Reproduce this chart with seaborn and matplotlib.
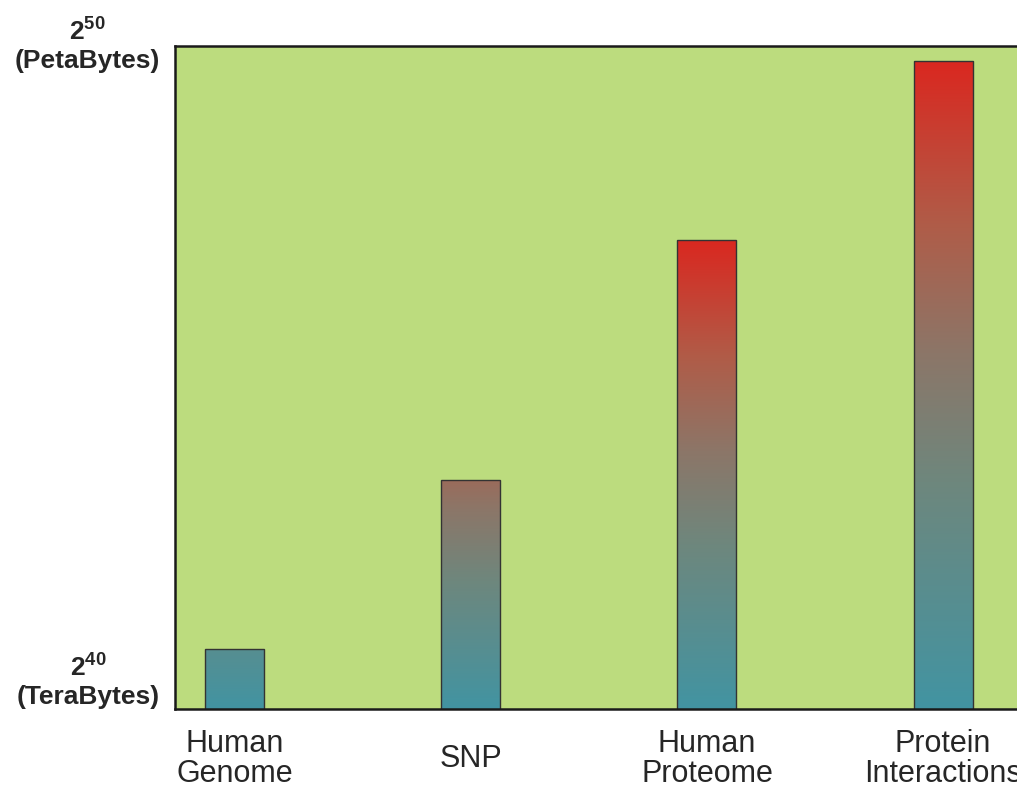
import numpy as np
import pandas as pd
import seaborn as sns
import matplotlib.pyplot as plt
from matplotlib.colors import LinearSegmentedColormap

# data: dataset size as log2(bytes)
categories = ["Human\nGenome", "SNP", "Human\nProteome", "Protein\nInteractions"]
log2_bytes = [40.9, 43.45, 47.07, 49.77]
ytick_values = [40, 50]
ytick_labels = [r"$\mathbf{2^{40}}$" + "\n(TeraBytes)",
                r"$\mathbf{2^{50}}$" + "\n(PetaBytes)"]

sns.set_style("white")
plt.rcParams["font.family"] = ["Liberation Sans", "DejaVu Sans"]
plt.rcParams["mathtext.fontset"] = "custom"
plt.rcParams["mathtext.bf"] = "Liberation Sans:bold"
plt.rcParams["mathtext.rm"] = "Liberation Sans"

df = pd.DataFrame({"dataset": categories, "size": log2_bytes})

grad = LinearSegmentedColormap.from_list("teal_red", [
    (0.0, (66/255, 148/255, 162/255)),
    (0.35, (110/255, 135/255, 125/255)),
    (0.55, (140/255, 118/255, 104/255)),
    (0.75, (176/255, 92/255, 72/255)),
    (1.0, (218/255, 40/255, 32/255)),
])

fig = plt.figure(figsize=(10.17, 7.89), dpi=100)
ax = fig.add_axes([0.172, 0.1014, 0.89, 0.8403])
ax.set_facecolor("#bcdc7e")

sns.barplot(data=df, x="dataset", y="size", width=0.25, color="#4592a0",
            saturation=1, edgecolor="#333333", linewidth=1.0, ax=ax)

ymin, ymax = 40, 50
for bar in ax.patches:
    h = bar.get_height()
    frac = min(1.0, (h - ymin) / (ymax - ymin) / 0.55)
    cols = grad(np.linspace(0, frac, 256))[:, :3].reshape(256, 1, 3)
    x0 = bar.get_x()
    img = ax.imshow(cols, origin="lower", aspect="auto",
                    extent=(x0, x0 + bar.get_width(), ymin, h), zorder=1)
    img.set_clip_path(bar)
    bar.set_facecolor("none")
    bar.set_zorder(2)

ax.set_xlim(-0.253, 3.58)
ax.set_ylim(ymin, ymax)

ax.spines["right"].set_visible(False)
for s in ["left", "top", "bottom"]:
    ax.spines[s].set_linewidth(1.8)
    ax.spines[s].set_color("#1a1a1a")

ax.set_yticks(ytick_values, labels=ytick_labels)
ax.tick_params(axis="y", length=0, pad=11, labelsize=19)
for lbl in ax.get_yticklabels():
    lbl.set_fontweight("bold")
    lbl.set_multialignment("center")
ax.get_yticklabels()[0].set_va("bottom")
ax.get_yticklabels()[1].set_va("center")
ax.get_yticklabels()[1].set_y(50.1)

ax.tick_params(axis="x", length=0, pad=36, labelsize=22)
for lbl in ax.get_xticklabels():
    lbl.set_va("center")
    lbl.set_linespacing(1.0)

ax.set_xlabel("")
ax.set_ylabel("")

fig.savefig("out.png", dpi=100)
